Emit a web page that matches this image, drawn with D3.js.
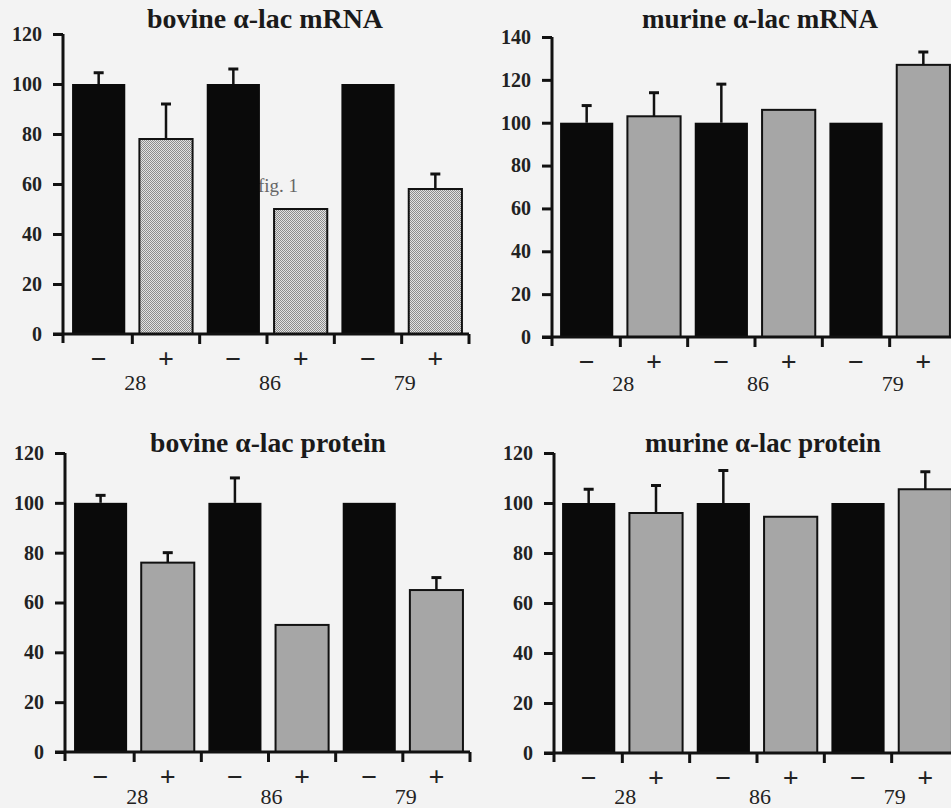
<!DOCTYPE html>
<html>
<head>
<meta charset="utf-8">
<script src="https://cdn.jsdelivr.net/npm/d3@7"></script>
<style>
  html, body { margin: 0; padding: 0; background: #f2f2f2; }
  svg { display: block; }
</style>
</head>
<body>
<svg id="chart" width="951" height="808"></svg>
<script>
// ---------------- data ----------------
const groups = ["28", "86", "79"];
const treatments = ["\u2212", "+"];
const conditions = ["28-", "28+", "86-", "86+", "79-", "79+"];

const bovineMrnaValues   = [100, 78, 100, 50, 100, 58];
const bovineMrnaErrors   = [4.5, 14, 6, 0, 0, 6];
const murineMrnaValues   = [100, 103, 100, 106, 100, 127];
const murineMrnaErrors   = [8, 11, 18, 0, 0, 6];
const bovineProteinValues = [100, 76, 100, 51, 100, 65];
const bovineProteinErrors = [3, 4, 10, 0, 0, 5];
const murineProteinValues = [100, 96, 100, 94.5, 100, 105.5];
const murineProteinErrors = [5.5, 11, 13, 0, 0, 7];

const ticks120 = [0, 20, 40, 60, 80, 100, 120];
const ticks140 = [0, 20, 40, 60, 80, 100, 120, 140];

const titles = ["bovine \u03b1-lac mRNA", "murine \u03b1-lac mRNA",
                "bovine \u03b1-lac protein", "murine \u03b1-lac protein"];

// ---------------- layout ----------------
const svg = d3.select("#chart");
svg.append("rect").attr("width", 951).attr("height", 808).attr("fill", "#f3f3f3");

const defs = svg.append("defs");
const pat = defs.append("pattern").attr("id", "stipple")
  .attr("width", 2).attr("height", 2).attr("patternUnits", "userSpaceOnUse");
pat.append("rect").attr("width", 2).attr("height", 2).attr("fill", "#e2e2e2");
pat.append("rect").attr("width", 1).attr("height", 1).attr("fill", "#8c8c8c");
pat.append("rect").attr("x", 1).attr("y", 1).attr("width", 1).attr("height", 1).attr("fill", "#8c8c8c");

const panels = [
  { title: titles[0], values: bovineMrnaValues, errors: bovineMrnaErrors, ticks: ticks120, max: 120,
    axisX: 63, y0: 334, yTop: 34, xr: [65, 469], titleX: 265, titleY: 28, grey: "url(#stipple)", fig: true, grpDy: 56 },
  { title: titles[1], values: murineMrnaValues, errors: murineMrnaErrors, ticks: ticks140, max: 140,
    axisX: 552, y0: 337, yTop: 37, xr: [553, 957], titleX: 760, titleY: 28, grey: "#a6a6a6", grpDy: 54 },
  { title: titles[2], values: bovineProteinValues, errors: bovineProteinErrors, ticks: ticks120, max: 120,
    axisX: 65, y0: 752, yTop: 453, xr: [67, 470], titleX: 268, titleY: 452, grey: "#a6a6a6", grpDy: 52 },
  { title: titles[3], values: murineProteinValues, errors: murineProteinErrors, ticks: ticks120, max: 120,
    axisX: 554, y0: 753, yTop: 453, xr: [555, 959], titleX: 763, titleY: 452, grey: "#a6a6a6", grpDy: 51 }
];

const serif = "'Liberation Serif', 'Times New Roman', serif";

panels.forEach(p => {
  const g = svg.append("g");
  const y = d3.scaleLinear().domain([0, p.max]).range([p.y0, p.yTop]);
  const x = d3.scaleBand().domain(conditions).range(p.xr).paddingInner(0.21).paddingOuter(0.105);
  const step = x.step();

  // title
  const t = g.append("text").attr("x", p.titleX).attr("y", p.titleY)
    .attr("text-anchor", "middle").attr("font-family", serif).attr("font-weight", "bold")
    .attr("font-size", 24).attr("fill", "#1a1a1a").text(p.title);
  const w = t.node().getComputedTextLength();
  t.attr("font-size", 24 * 236 / w);

  if (p.fig) {
    g.append("text").attr("x", 258).attr("y", 192).attr("font-family", serif)
      .attr("font-size", 19).attr("fill", "#666").text("fig. 1");
  }

  // bars
  g.selectAll("rect.bar").data(p.values).join("rect")
    .attr("x", (d, i) => x(conditions[i]))
    .attr("width", x.bandwidth())
    .attr("y", d => y(d))
    .attr("height", d => p.y0 - y(d))
    .attr("fill", (d, i) => i % 2 === 0 ? "#0a0a0a" : p.grey)
    .attr("stroke", "#111")
    .attr("stroke-width", (d, i) => i % 2 === 0 ? 0 : 2);

  // error bars
  const eb = g.selectAll("g.err").data(p.values.map((v, i) => ({ v, e: p.errors[i], i })).filter(d => d.e > 0))
    .join("g").attr("stroke", "#111").attr("stroke-width", 2.5);
  eb.append("line")
    .attr("x1", d => x(conditions[d.i]) + x.bandwidth() / 2)
    .attr("x2", d => x(conditions[d.i]) + x.bandwidth() / 2)
    .attr("y1", d => y(d.v)).attr("y2", d => y(d.v + d.e));
  eb.append("line")
    .attr("x1", d => x(conditions[d.i]) + x.bandwidth() / 2 - 5)
    .attr("x2", d => x(conditions[d.i]) + x.bandwidth() / 2 + 5)
    .attr("y1", d => y(d.v + d.e)).attr("y2", d => y(d.v + d.e))
    .attr("stroke-width", 3);

  // y axis
  const yAxis = d3.axisLeft(y).tickValues(p.ticks).tickSize(10).tickPadding(11).tickFormat(d3.format("d"));
  const ya = g.append("g").attr("transform", `translate(${p.axisX},0)`).call(yAxis);
  ya.attr("font-size", null).attr("font-family", null);
  ya.select(".domain").remove();
  ya.append("line").attr("x1", 0).attr("x2", 0).attr("y1", p.yTop).attr("y2", p.y0 + 9)
    .attr("stroke", "#111").attr("stroke-width", 3);
  ya.selectAll(".tick line").attr("stroke", "#111").attr("stroke-width", 3);
  ya.selectAll(".tick text")
    .style("font-family", serif).style("font-weight", "bold")
    .style("font-size", "20px").attr("fill", "#222");

  // x axis
  const boundaries = d3.range(conditions.length + 1).map(k => p.xr[0] + k * step);
  g.append("line").attr("x1", p.axisX - 10).attr("x2", p.xr[1])
    .attr("y1", p.y0).attr("y2", p.y0).attr("stroke", "#111").attr("stroke-width", 3);
  g.selectAll("line.xt").data(boundaries.slice(1)).join("line")
    .attr("x1", d => d).attr("x2", d => d).attr("y1", p.y0).attr("y2", p.y0 + 10)
    .attr("stroke", "#111").attr("stroke-width", 3);

  // treatment labels
  g.selectAll("text.tr").data(conditions).join("text")
    .attr("x", d => x(d) + x.bandwidth() / 2)
    .attr("y", p.y0 + 34)
    .attr("text-anchor", "middle").attr("font-family", serif).attr("font-weight", "bold")
    .attr("font-size", 28).attr("fill", "#222")
    .text((d, i) => treatments[i % 2]);

  // group labels
  g.selectAll("text.grp").data(groups).join("text")
    .attr("x", (d, i) => p.xr[0] + (2 * i + 1) * step + 3)
    .attr("y", p.y0 + p.grpDy)
    .attr("text-anchor", "middle").attr("font-family", serif)
    .attr("font-size", 22).attr("fill", "#222")
    .text(d => d);
});
</script>
</body>
</html>
